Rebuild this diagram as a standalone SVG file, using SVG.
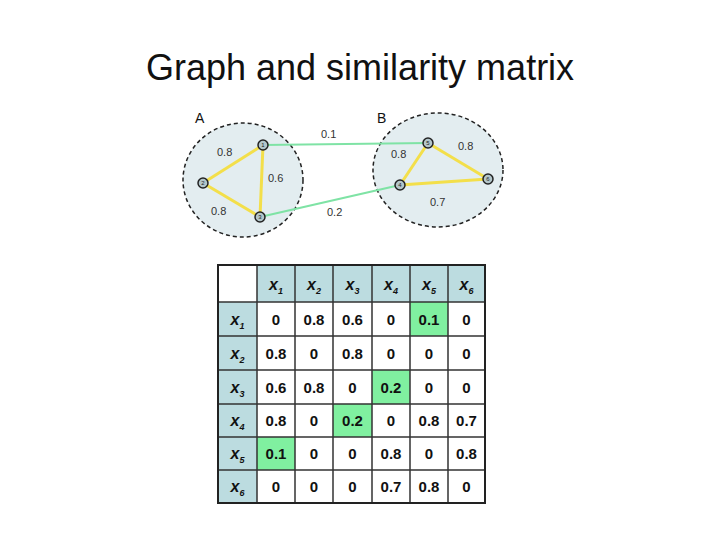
<svg xmlns="http://www.w3.org/2000/svg" width="720" height="540" viewBox="0 0 720 540">
<style>
.title{font-family:"Liberation Sans",Arial,sans-serif;font-size:36px;fill:#111}
.lbl{font-family:"Liberation Sans",Arial,sans-serif;font-size:11px;fill:#333}
.big{font-family:"Liberation Sans",Arial,sans-serif;font-size:14px;fill:#111}
.cl{fill:#e3edf0;stroke:#222;stroke-width:1.5;stroke-dasharray:4,3}
.y{stroke:#f3df4a;stroke-width:3;fill:none}
.g{stroke:#7fe3a5;stroke-width:2;fill:none}
.nd{fill:#b3c6ca;stroke:#222;stroke-width:1.5}
.nt{font-family:"Liberation Sans",Arial,sans-serif;font-size:6px;fill:#222;text-anchor:middle}
.hd{fill:#bcdce0}
.hl{fill:#80f0a0}
.grid{stroke:#333;stroke-width:1.5;fill:none}
.v{font-family:"Liberation Sans",Arial,sans-serif;font-size:15px;font-weight:bold;fill:#111;text-anchor:middle}
.h{font-family:"Liberation Sans",Arial,sans-serif;font-size:16px;font-weight:bold;font-style:italic;fill:#111;text-anchor:middle}
.sub{font-size:9px}
</style>
<text class="title" x="146" y="80">Graph and similarity matrix</text>

<g id="clusterA"><ellipse class="cl" cx="243" cy="180" rx="60" ry="57"/><text class="big" x="195" y="123">A</text></g>
<g id="clusterB"><ellipse class="cl" cx="438" cy="170" rx="65" ry="57"/><text class="big" x="377" y="123">B</text></g>

<g id="connectors">
<line class="g" x1="263" y1="145" x2="428" y2="143"/>
<line class="g" x1="260" y1="217" x2="400" y2="185"/>
<line class="y" x1="263" y1="145" x2="203" y2="183"/>
<line class="y" x1="263" y1="145" x2="260" y2="217"/>
<line class="y" x1="203" y1="183" x2="260" y2="217"/>
<line class="y" x1="428" y1="143" x2="400" y2="185"/>
<line class="y" x1="428" y1="143" x2="488" y2="179"/>
<line class="y" x1="400" y1="185" x2="488" y2="179"/>
</g>
<g id="edge-labels">
<text class="lbl" x="217" y="156">0.8</text>
<text class="lbl" x="268" y="182">0.6</text>
<text class="lbl" x="211" y="215">0.8</text>
<text class="lbl" x="321" y="138">0.1</text>
<text class="lbl" x="327" y="216">0.2</text>
<text class="lbl" x="391" y="158">0.8</text>
<text class="lbl" x="458" y="150">0.8</text>
<text class="lbl" x="430" y="206">0.7</text>
</g>

<g id="n1"><circle class="nd" cx="263" cy="145" r="5"/><text class="nt" x="263" y="147">1</text></g>
<g id="n2"><circle class="nd" cx="203" cy="183" r="5"/><text class="nt" x="203" y="185">2</text></g>
<g id="n3"><circle class="nd" cx="260" cy="217" r="5"/><text class="nt" x="260" y="219">3</text></g>
<g id="n4"><circle class="nd" cx="400" cy="185" r="5"/><text class="nt" x="400" y="187">4</text></g>
<g id="n5"><circle class="nd" cx="428" cy="143" r="5"/><text class="nt" x="428" y="145">5</text></g>
<g id="n6"><circle class="nd" cx="488" cy="179" r="5"/><text class="nt" x="488" y="181">6</text></g>

<g id="matrix">
<rect x="218" y="265" width="267" height="238" fill="#fff"/>
<rect class="hd" x="257" y="265" width="228" height="37"/>
<rect class="hd" x="218" y="302" width="39" height="201"/>
<rect class="hl" x="410" y="302" width="38" height="34"/>
<rect class="hl" x="372" y="370" width="38" height="34"/>
<rect class="hl" x="333" y="404" width="39" height="33"/>
<rect class="hl" x="257" y="437" width="38" height="33"/>
<path class="grid" d="M257 265V503M295 265V503M333 265V503M372 265V503M410 265V503M448 265V503M218 302H485M218 336H485M218 370H485M218 404H485M218 437H485M218 470H485"/>
<rect x="218" y="265" width="267" height="238" fill="none" stroke="#222" stroke-width="2"/>

<text class="h" x="276" y="290">x<tspan class="sub" dy="4">1</tspan></text>
<text class="h" x="314" y="290">x<tspan class="sub" dy="4">2</tspan></text>
<text class="h" x="352.5" y="290">x<tspan class="sub" dy="4">3</tspan></text>
<text class="h" x="391" y="290">x<tspan class="sub" dy="4">4</tspan></text>
<text class="h" x="429" y="290">x<tspan class="sub" dy="4">5</tspan></text>
<text class="h" x="466.5" y="290">x<tspan class="sub" dy="4">6</tspan></text>

<text class="h" x="237.5" y="325">x<tspan class="sub" dy="4">1</tspan></text>
<text class="h" x="237.5" y="359">x<tspan class="sub" dy="4">2</tspan></text>
<text class="h" x="237.5" y="393">x<tspan class="sub" dy="4">3</tspan></text>
<text class="h" x="237.5" y="426">x<tspan class="sub" dy="4">4</tspan></text>
<text class="h" x="237.5" y="459">x<tspan class="sub" dy="4">5</tspan></text>
<text class="h" x="237.5" y="492">x<tspan class="sub" dy="4">6</tspan></text>

<g class="v">
<text x="276" y="324.5">0</text><text x="314" y="324.5">0.8</text><text x="352.5" y="324.5">0.6</text><text x="391" y="324.5">0</text><text x="429" y="324.5">0.1</text><text x="466.5" y="324.5">0</text>
<text x="276" y="358.5">0.8</text><text x="314" y="358.5">0</text><text x="352.5" y="358.5">0.8</text><text x="391" y="358.5">0</text><text x="429" y="358.5">0</text><text x="466.5" y="358.5">0</text>
<text x="276" y="392.5">0.6</text><text x="314" y="392.5">0.8</text><text x="352.5" y="392.5">0</text><text x="391" y="392.5">0.2</text><text x="429" y="392.5">0</text><text x="466.5" y="392.5">0</text>
<text x="276" y="426">0.8</text><text x="314" y="426">0</text><text x="352.5" y="426">0.2</text><text x="391" y="426">0</text><text x="429" y="426">0.8</text><text x="466.5" y="426">0.7</text>
<text x="276" y="459">0.1</text><text x="314" y="459">0</text><text x="352.5" y="459">0</text><text x="391" y="459">0.8</text><text x="429" y="459">0</text><text x="466.5" y="459">0.8</text>
<text x="276" y="492">0</text><text x="314" y="492">0</text><text x="352.5" y="492">0</text><text x="391" y="492">0.7</text><text x="429" y="492">0.8</text><text x="466.5" y="492">0</text>
</g>
</g>
</svg>
